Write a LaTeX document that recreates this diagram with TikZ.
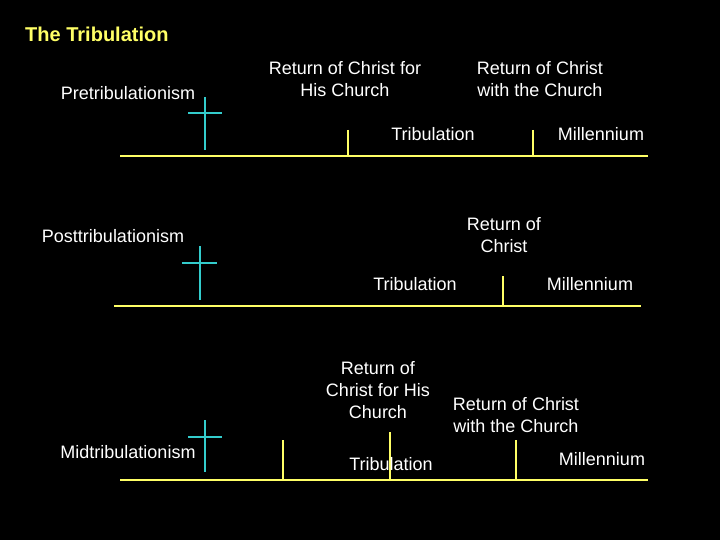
\documentclass[tikz,border=0pt]{standalone}
\usepackage{fontspec}
\setmainfont{Liberation Sans}
\definecolor{ln}{RGB}{255,255,102}
\definecolor{cr}{RGB}{51,204,204}
\begin{document}
\begin{tikzpicture}[x=1pt,y=-1pt,
 lbl/.style={text=white,font=\fontsize{18}{22}\selectfont,align=center,inner sep=0pt},
 yl/.style={draw=ln,line width=2.6pt},
 cl/.style={draw=cr,line width=2.6pt}]
\fill[black] (0,0) rectangle (720,540);
\useasboundingbox (0,0) rectangle (720,540);
\node[anchor=west,inner sep=0pt,text=ln,font=\bfseries\fontsize{20}{22}\selectfont] (t) at (25,34) {The Tribulation};
% Pre
\node[lbl] (pre) at (128,93) {Pretribulationism};
\coordinate (c1t) at (205,97); \coordinate (c1b) at (205,150);
\coordinate (c1l) at (188,113); \coordinate (c1r) at (222,113);
\draw[cl] (c1t)--(c1b); \draw[cl] (c1l)--(c1r);
\coordinate (l1a) at (120,156); \coordinate (l1b) at (648,156);
\draw[yl] (l1a)--(l1b);
\coordinate (k1a) at (348,130); \coordinate (k1b) at (348,156);
\coordinate (k2a) at (533,130); \coordinate (k2b) at (533,156);
\draw[yl] (k1a)--(k1b); \draw[yl] (k2a)--(k2b);
\node[lbl] (r1) at (345,79) {Return of Christ for\\His Church};
\node[lbl] (r2) at (540,79) {Return of Christ\\with the Church};
\node[lbl] (tr1) at (433,134) {Tribulation};
\node[lbl] (m1) at (601,134) {Millennium};
% Post
\node[lbl] (post) at (113,236) {Posttribulationism};
\coordinate (c2t) at (200,246); \coordinate (c2b) at (200,300);
\coordinate (c2l) at (182,263); \coordinate (c2r) at (217,263);
\draw[cl] (c2t)--(c2b); \draw[cl] (c2l)--(c2r);
\coordinate (l2a) at (114,306); \coordinate (l2b) at (641,306);
\draw[yl] (l2a)--(l2b);
\coordinate (k3a) at (503,276); \coordinate (k3b) at (503,306);
\draw[yl] (k3a)--(k3b);
\node[lbl] (r3) at (504,235) {Return of\\Christ};
\node[lbl] (tr2) at (415,284) {Tribulation};
\node[lbl] (m2) at (590,284) {Millennium};
% Mid
\node[lbl] (mid) at (128,452) {Midtribulationism};
\coordinate (c3t) at (205,420); \coordinate (c3b) at (205,472);
\coordinate (c3l) at (188,437); \coordinate (c3r) at (222,437);
\draw[cl] (c3t)--(c3b); \draw[cl] (c3l)--(c3r);
\coordinate (l3a) at (120,480); \coordinate (l3b) at (648,480);
\draw[yl] (l3a)--(l3b);
\coordinate (k4a) at (283,440); \coordinate (k4b) at (283,480);
\coordinate (k5a) at (390,432); \coordinate (k5b) at (390,480);
\coordinate (k6a) at (516,440); \coordinate (k6b) at (516,480);
\draw[yl] (k4a)--(k4b); \draw[yl] (k5a)--(k5b); \draw[yl] (k6a)--(k6b);
\node[lbl] (r4) at (378,390) {Return of\\Christ for His\\Church};
\node[lbl] (r5) at (516,415) {Return of Christ\\with the Church};
\node[lbl] (tr3) at (391,464) {Tribulation};
\node[lbl] (m3) at (602,459) {Millennium};
\end{tikzpicture}
\end{document}
